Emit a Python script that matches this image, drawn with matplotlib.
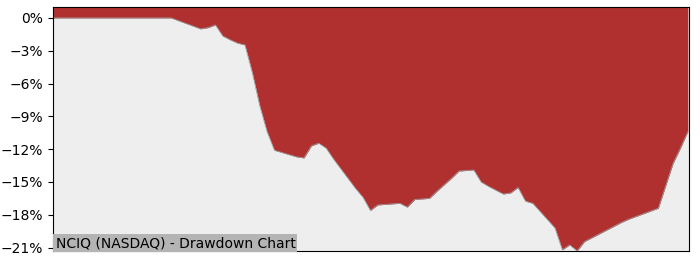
import numpy as np
import matplotlib.pyplot as plt
from matplotlib.ticker import FuncFormatter

# trading session index and drawdown (%)
sessions = list(range(87))
drawdown = [
    0, 0, 0, 0, 0, 0, 0, 0, 0, 0, 0, 0, 0, 0, 0, 0, 0,
    -0.25, -0.5, -0.75, -1.0, -0.89, -0.64, -1.65, -2.0, -2.3, -2.47,
    -5.0, -8.0, -10.4, -12.1, -12.3, -12.5, -12.7, -12.8, -11.7, -11.45,
    -11.9, -12.9, -13.8, -14.7, -15.6, -16.4, -17.6, -17.1, -17.05, -17.0,
    -16.95, -17.3, -16.6, -16.55, -16.5, -15.85, -15.25, -14.65, -14.0, -13.95,
    -13.9, -15.0, -15.4, -15.75, -16.1, -16.0, -15.5, -16.75, -16.95, -17.7,
    -18.45, -19.2, -21.2, -20.75, -21.3, -20.45, -20.1, -19.75, -19.4, -19.05,
    -18.7, -18.4, -18.15, -17.9, -17.65, -17.4, -15.35, -13.3, -11.9, -10.4,
]
yticks = [0, -3, -6, -9, -12, -15, -18, -21]
title = "NCIQ (NASDAQ) - Drawdown Chart"

fig = plt.figure(figsize=(7, 2.8), dpi=100)
ax = fig.add_axes([0.0757, 0.102, 0.909, 0.873])
ax.set_facecolor('#eeeeee')

x = np.array(sessions)
dd = np.array(drawdown)
top = 1.0
ax.fill_between(x, dd, top, color='#b03030', linewidth=0)
ax.plot(x, dd, color='#999999', linewidth=0.6)

ax.set_xlim(0, 86.2)
ax.set_ylim(-21.35, top)
ax.set_yticks(yticks)
ax.yaxis.set_major_formatter(FuncFormatter(lambda v, p: f"{v:.0f}%".replace('-', '\u2212')))
ax.set_xticks([])

ax.text(0.004, 0.005, title, transform=ax.transAxes, fontsize=10,
        ha='left', va='bottom',
        bbox=dict(facecolor='#b4b4b4', edgecolor='none', pad=1.5))

plt.savefig('out.png', dpi=100)
